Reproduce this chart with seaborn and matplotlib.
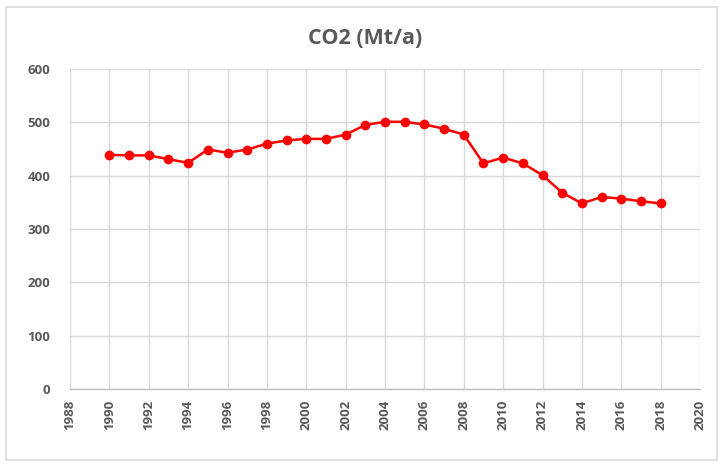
import matplotlib
matplotlib.use("Agg")
import matplotlib.pyplot as plt
import seaborn as sns
import pandas as pd
from matplotlib.patches import Rectangle

years = list(range(1990, 2019))
co2 = [439, 438, 438, 431, 424, 449, 443, 449, 460, 466, 469, 469, 477, 495, 501,
       501, 496, 488, 477, 423, 434, 423, 401, 368, 348, 360, 357, 352, 348]
x_ticks = list(range(1988, 2021, 2))
y_ticks = [0, 100, 200, 300, 400, 500, 600]

df = pd.DataFrame({"year": years, "co2": co2})

sns.set_theme(style="white")
plt.rcParams["font.family"] = ["Open Sans", "DejaVu Sans"]

W, H = 723, 466
fig = plt.figure(figsize=(W / 100, H / 100), dpi=100)
ax = fig.add_axes([70 / W, 1 - 389 / H, (700 - 70) / W, (389 - 69) / H])

# outer chart frame
fig.patches.append(Rectangle((6 / W, 6 / H), (717 - 6) / W, (459 - 6) / H,
                             transform=fig.transFigure, fill=False,
                             edgecolor="#d9d9d9", linewidth=1.2))

sns.lineplot(data=df, x="year", y="co2", ax=ax, color="#ff0000", linewidth=1.8,
             marker="o", markersize=7, markeredgewidth=0)

ax.set_xlim(1988, 2020)
ax.set_ylim(0, 600)
ax.set_xticks(x_ticks)
ax.set_yticks(y_ticks)
ax.set_xticklabels([str(t) for t in x_ticks], rotation=90)
ax.tick_params(axis="both", length=0, labelcolor="#595959")
ax.tick_params(axis="x", pad=8, labelsize=9.5)
ax.tick_params(axis="y", pad=14, labelsize=9.5)
for lbl in ax.get_yticklabels() + ax.get_xticklabels():
    lbl.set_fontweight("bold")
ax.grid(True, color="#d9d9d9", linewidth=1)
ax.set_axisbelow(True)
for side in ["left", "right", "top"]:
    ax.spines[side].set_visible(False)
ax.spines["bottom"].set_color("#bfbfbf")
ax.spines["bottom"].set_linewidth(1)
ax.set_xlabel("")
ax.set_ylabel("")

fig.text(365 / W, 1 - 38 / H, "CO2 (Mt/a)", ha="center", va="center",
         fontsize=15.5, fontweight="bold", color="#595959")

fig.savefig("out.png", dpi=100)
